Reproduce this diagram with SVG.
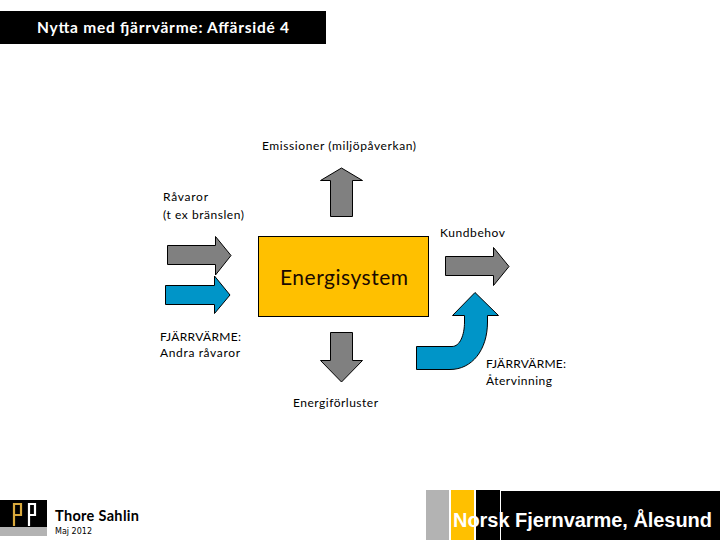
<svg xmlns="http://www.w3.org/2000/svg" width="720" height="540" viewBox="0 0 720 540">
<style>
.t{font-family:"Lato","Open Sans","Liberation Sans",sans-serif;font-size:12px;fill:#000}
.g{fill:#808080;stroke:#000;stroke-width:1}
.b{fill:#0095c8;stroke:#000;stroke-width:1}
</style>
<rect width="720" height="540" fill="#fff"/>
<g id="header"><rect x="0" y="11" width="326" height="33" fill="#000"/>
<text x="37" y="33" textLength="252" style="font-family:Lato,'Open Sans',sans-serif;font-size:15.500px;font-weight:700;fill:#fff">Nytta med fjärrvärme: Affärsidé 4</text></g>
<g id="labels">
<text class="t" x="262" y="150" textLength="154">Emissioner (miljöpåverkan)</text>
<text class="t" x="163" y="201" textLength="45">Råvaror</text>
<text class="t" x="163" y="219" textLength="81">(t ex bränslen)</text>
<text class="t" x="440" y="237" textLength="65">Kundbehov</text>
<text class="t" x="160" y="341" textLength="81">FJÄRRVÄRME:</text>
<text class="t" x="160" y="357" textLength="80">Andra råvaror</text>
<text class="t" x="486" y="368" textLength="80">FJÄRRVÄRME:</text>
<text class="t" x="486" y="385" textLength="66">Återvinning</text>
<text class="t" x="293" y="407" textLength="85">Energiförluster</text>
</g>
<g id="energisystem"><rect x="258.500" y="236.500" width="170" height="80" fill="#ffc000" stroke="#000"/>
<text x="280" y="285" textLength="128" style="font-family:Lato,'Open Sans',sans-serif;font-size:21px;fill:#1a0a00">Energisystem</text></g>
<g id="connectors">
<path class="g" d="M341.500 168L362.500 180.500H352.500V216.500H330.500V180.500H320.500Z"/>
<path class="g" d="M167.500 245.500H215.500V236.500L231 255.500L215.500 275V264.500H167.500Z"/>
<path class="b" d="M165.500 285.500H214.500V276L230 295L214.500 313.500V304.500H165.500Z"/>
<path class="g" d="M445.500 256.500H493.500V247.500L509 266.500L493.500 285.500V275.500H445.500Z"/>
<path class="g" d="M330.500 332.500H352.500V360.500H362.500L341.500 382L320.500 360.500H330.500Z"/>
<path class="b" d="M475 292.500L498.500 315.500H487.500V322C487.500 350 472 369.500 450 369.500H416.500V346.500H452C460 346.500 464.500 335 464.500 322V315.500H452.500Z"/>
</g>
<g id="logo"><rect x="0" y="500" width="47" height="27" fill="#000"/><rect x="0" y="527" width="47" height="9" fill="#b3b3b3"/>
<path d="M14 526V504H21V515H14" fill="none" stroke="#d9a93c" stroke-width="2.200"/>
<path d="M29 526V504H35V515H29" fill="none" stroke="#fff" stroke-width="2.200"/></g>
<g id="author">
<text x="55" y="521" textLength="84" style="font-family:Lato,'Open Sans',sans-serif;font-size:14.500px;font-weight:700;fill:#000">Thore Sahlin</text>
<text x="55" y="534" textLength="37" style="font-family:'DejaVu Sans',sans-serif;font-size:8px;fill:#000">Maj 2012</text></g>
<g id="footer">
<rect x="426" y="490" width="23" height="50" fill="#b3b3b3"/>
<rect x="451" y="490" width="23" height="50" fill="#ffc000"/>
<rect x="476" y="490" width="24" height="50" fill="#000"/>
<rect x="501" y="491" width="219" height="49" fill="#000"/>
<text x="453" y="527" textLength="259" style="font-family:'Liberation Sans',Arial,sans-serif;font-size:20px;font-weight:700;fill:#fff">Norsk Fjernvarme, Ålesund</text></g>
</svg>
